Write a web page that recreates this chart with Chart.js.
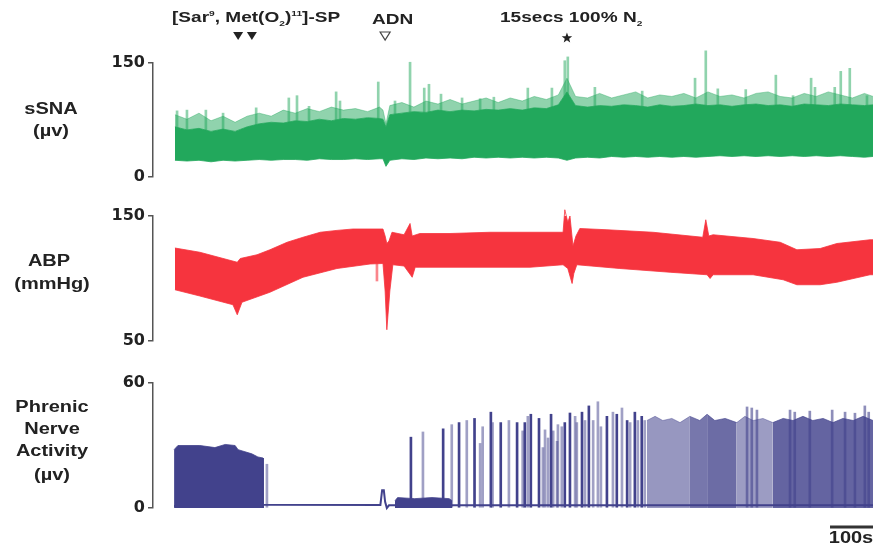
<!DOCTYPE html>
<html>
<head>
<meta charset="utf-8">
<script src="https://cdn.jsdelivr.net/npm/chart.js@4"></script>
<style>
  body { margin: 0; background: #fff; }
  #wrap { position: relative; width: 874px; height: 553px; overflow: hidden;
          font-family: "Liberation Sans", Arial, sans-serif; font-weight: bold; color: #222; }
  canvas { position: absolute; left: 0; }
  .lbl { position: absolute; font-size: 16px; line-height: 1; white-space: nowrap;
         transform: translate(-50%, -50%) scaleX(1.25); }
  .note { position: absolute; font-size: 15px; line-height: 1; white-space: nowrap;
          transform-origin: left center; transform: translateY(-50%) scaleX(1.27); }
  .note sup, .note sub { font-size: 8px; }
</style>
</head>
<body>
<div id="wrap">
  <canvas id="c1" width="874" height="190" style="top:0"></canvas>
  <canvas id="c2" width="874" height="160" style="top:195px"></canvas>
  <canvas id="c3" width="874" height="188" style="top:365px"></canvas>

  <div class="note" style="left:172px; top:18px">[Sar<sup>9</sup>, Met(O<sub>2</sub>)<sup>11</sup>]-SP</div>
  <div class="note" style="left:372px; top:18px">ADN</div>
  <div class="note" style="left:500px; top:18px">15secs 100% N<sub>2</sub></div>

  <div class="lbl" style="left:51px; top:109px">sSNA</div>
  <div class="lbl" style="left:51px; top:131px">(µv)</div>
  <div class="lbl" style="left:49px; top:261px">ABP</div>
  <div class="lbl" style="left:52px; top:284px">(mmHg)</div>
  <div class="lbl" style="left:52px; top:407px">Phrenic</div>
  <div class="lbl" style="left:52px; top:429px">Nerve</div>
  <div class="lbl" style="left:52px; top:451px">Activity</div>
  <div class="lbl" style="left:52px; top:475px">(µv)</div>
  <div class="lbl" style="left:851px; top:538px">100s</div>
</div>

<script>
// time axis in seconds (scale bar = 100 s)
const tStart = -49, tEnd = 1626;

// event markers above the traces
const eventTimes = [149, 181, 491, 914];
const eventKinds = ['filled', 'filled', 'open', 'star'];

// sSNA envelope (µV)
const sTime  = [2, 30, 58, 86, 114, 142, 170, 198, 226, 254, 282, 310, 338, 366, 394, 422, 450, 478, 486, 493, 502, 530, 558, 586, 614, 642, 670, 698, 726, 754, 782, 810, 838, 866, 894, 914, 934, 962, 990, 1018, 1046, 1074, 1102, 1130, 1158, 1186, 1214, 1242, 1270, 1298, 1326, 1354, 1382, 1410, 1438, 1466, 1494, 1522, 1550, 1578, 1606, 1626];
const sTip   = [82, 76, 84, 74, 80, 72, 80, 84, 80, 88, 84, 90, 86, 92, 88, 90, 86, 92, 88, 70, 94, 98, 92, 100, 96, 102, 96, 100, 104, 98, 104, 100, 106, 102, 108, 130, 106, 104, 110, 104, 108, 112, 104, 108, 106, 110, 104, 112, 106, 108, 104, 110, 112, 106, 104, 110, 106, 112, 108, 104, 110, 106];
const sUpper = [66, 62, 64, 60, 63, 60, 66, 70, 72, 71, 74, 73, 76, 74, 77, 76, 78, 77, 76, 66, 82, 84, 86, 85, 88, 86, 88, 87, 89, 88, 90, 88, 91, 90, 95, 112, 94, 92, 94, 93, 95, 94, 92, 95, 93, 94, 96, 94, 95, 93, 95, 96, 94, 95, 93, 96, 95, 94, 96, 95, 94, 95];
const sLower = [22, 21, 22, 20, 22, 21, 22, 23, 22, 23, 23, 22, 24, 23, 23, 24, 23, 24, 24, 14, 22, 24, 23, 25, 24, 25, 24, 26, 25, 26, 25, 26, 25, 26, 25, 22, 25, 26, 25, 27, 26, 27, 26, 27, 26, 27, 26, 27, 28, 27, 28, 27, 28, 27, 28, 27, 28, 27, 28, 27, 26, 27];
const sSpikeTime = [7, 30, 74, 114, 191, 267, 286, 314, 377, 386, 475, 514, 549, 582, 593, 621, 670, 712, 744, 823, 879, 909, 916, 979, 1089, 1212, 1237, 1265, 1330, 1400, 1440, 1482, 1491, 1537, 1551, 1572, 1612];
const sSpikeHigh = [87, 88, 88, 84, 91, 104, 107, 93, 112, 100, 125, 100, 151, 117, 122, 109, 104, 103, 105, 117, 117, 153, 158, 118, 113, 130, 166, 116, 115, 134, 107, 130, 118, 118, 139, 143, 107];

// ABP envelope (mmHg)
const aUpTime  = [2, 60, 147, 154, 193, 223, 263, 300, 340, 379, 416, 486, 491, 495, 500, 507, 535, 549, 554, 572, 642, 735, 828, 905, 909, 916, 921, 928, 935, 944, 1007, 1114, 1230, 1237, 1244, 1254, 1347, 1410, 1449, 1503, 1542, 1619, 1626];
const aUpper   = [124.4, 121, 113, 116, 119, 123, 129, 133, 137, 138.5, 139.6, 139.6, 134, 128, 130, 137, 135, 144, 134, 136, 136, 137, 137, 137, 155, 145, 150, 126, 134, 140, 139, 137, 133, 147, 134, 135, 132, 129, 123, 124, 128, 131, 131];
const aLowTime = [2, 60, 137, 147, 158, 223, 300, 379, 456, 486, 491, 495, 502, 509, 535, 554, 561, 572, 828, 905, 916, 926, 930, 937, 1037, 1154, 1240, 1247, 1254, 1347, 1417, 1449, 1503, 1542, 1619, 1626];
const aLower   = [91, 86, 79, 71, 81, 89, 101, 108, 111.6, 112, 90, 59, 90, 111, 110, 101, 109, 109, 109, 111, 108, 96, 104, 111, 108, 105, 103, 100, 103, 103, 99, 95, 95, 97, 103, 103];
const aStepTime = [472];
const aStepLow  = [98];
const aStepHigh = [112];

// Phrenic nerve activity (µV)
const pEarlyTime = [0, 9, 60, 95, 119, 142, 149, 165, 181, 195, 207, 208];
const pEarly     = [28, 30, 30, 29, 30.5, 30, 28, 27, 26, 24.5, 24, 0];
const pBaseTime  = [0, 208, 480, 484, 488, 491, 495, 500, 1626];
const pBase      = [1, 1.5, 1.5, 8.5, 8.5, 3, 0, 1.3, 1.3];
const pAdnTime   = [514, 520, 560, 600, 640, 647];
const pAdn       = [3.5, 5, 4.5, 5, 4.5, 3.5];
const pDarkTime  = [551, 626, 663, 699, 737, 760, 798, 816, 830, 849, 877, 909, 921, 949, 965, 1007, 1030, 1054, 1072, 1088];
const pDarkHigh  = [34, 38, 41, 43, 46, 41, 41, 41, 45, 43, 45, 41, 45.6, 46, 49, 44, 45, 42, 46, 44];
const pLightTime = [216, 579, 646, 681, 712, 718, 741, 779, 811, 823, 858, 863, 870, 882, 891, 893, 902, 933, 937, 956, 975, 986, 993, 1021, 1042, 1061, 1079, 1095];
const pLightHigh = [21, 36.5, 40, 42, 31, 39, 41, 42, 37, 44, 29, 37.5, 33.6, 37, 32, 40, 39, 44, 41, 42, 42, 51, 39, 46, 48, 41, 42, 42];
const pLateTime  = [1100, 1119, 1137, 1158, 1177, 1200, 1223, 1240, 1258, 1282, 1309, 1328, 1347, 1370, 1393, 1417, 1440, 1463, 1486, 1510, 1533, 1556, 1580, 1603, 1626];
const pLate      = [42, 44, 42, 43, 41, 44, 42, 45, 42, 43, 41, 44, 42, 43, 41, 43, 42, 44, 42, 43, 41, 43, 42, 44, 42];
// shade sections of the late dense burst band
const pLateSections = [[1100, 1200], [1200, 1240], [1240, 1309], [1309, 1393], [1393, 1626]];
const pLateTopTime = [1333, 1344, 1356, 1433, 1444, 1479, 1531, 1561, 1584, 1607, 1616];
const pLateTopHigh = [48.5, 48, 47, 47, 46, 46.5, 47, 46, 45.5, 49, 46];

const GREEN = 'rgb(34,168,92)', RED = 'rgb(246,52,62)', NAVY = 'rgb(66,66,140)';
const AXIS = '#555';

function pts(xs, ys) { return xs.map((x, i) => ({ x: x, y: ys[i] })); }
function bars(xs, lo, hi) { return xs.map((x, i) => ({ x: x, y: [Array.isArray(lo) ? lo[i] : lo, hi[i]] })); }

function yAxis(min, max) {
  return {
    min: min, max: max,
    afterBuildTicks: s => { s.ticks = [{ value: min }, { value: max }]; },
    afterFit: s => { s.width = 153; },
    border: { display: true, color: AXIS, width: 1.5 },
    grid: { drawOnChartArea: false, drawTicks: true, tickLength: 5, color: AXIS, lineWidth: 1.5 },
    ticks: { color: '#222', padding: 3, font: { family: 'DejaVu Sans', weight: 'bold', size: 16 } }
  };
}
const xAxis = { type: 'linear', min: tStart, max: tEnd, display: false, offset: false };

function baseOptions(min, max, pad) {
  return {
    responsive: false, animation: false,
    layout: { padding: pad },
    plugins: { legend: { display: false }, tooltip: { enabled: false } },
    scales: { x: xAxis, y: yAxis(min, max) }
  };
}
function area(data, color, fill) {
  return { type: 'line', data: data, fill: fill, backgroundColor: color, borderColor: color,
           borderWidth: 0.8, pointRadius: 0, tension: 0, clip: false };
}
function spikes(data, color, w) {
  return { type: 'bar', data: data, backgroundColor: color, barThickness: w || 2,
           grouped: false, clip: false };
}

// markers for drug / ADN / hypoxia events
const markerPlugin = {
  id: 'markers',
  afterDraw(chart) {
    const ctx = chart.ctx, xs = chart.scales.x;
    eventTimes.forEach((t, i) => {
      const px = xs.getPixelForValue(t);
      ctx.save();
      if (eventKinds[i] === 'star') {
        ctx.fillStyle = '#222';
        ctx.beginPath();
        for (let k = 0; k < 10; k++) {
          const r = k % 2 ? 2.3 : 5.5, a = -Math.PI / 2 + k * Math.PI / 5;
          ctx.lineTo(px + r * Math.cos(a), 38 + r * Math.sin(a));
        }
        ctx.closePath(); ctx.fill();
      } else {
        ctx.beginPath();
        ctx.moveTo(px - 5, 32); ctx.lineTo(px + 5, 32); ctx.lineTo(px, 40); ctx.closePath();
        if (eventKinds[i] === 'filled') { ctx.fillStyle = '#222'; ctx.fill(); }
        else { ctx.strokeStyle = '#444'; ctx.lineWidth = 1.2; ctx.stroke(); }
      }
      ctx.restore();
    });
  }
};

// 100 s scale bar under the last trace
const scaleBarPlugin = {
  id: 'scalebar',
  afterDraw(chart) {
    const ctx = chart.ctx, xs = chart.scales.x;
    ctx.save();
    ctx.strokeStyle = '#333'; ctx.lineWidth = 3;
    ctx.beginPath();
    ctx.moveTo(xs.getPixelForValue(tEnd - 100), 162);
    ctx.lineTo(xs.getPixelForValue(tEnd), 162);
    ctx.stroke();
    ctx.restore();
  }
};

new Chart(document.getElementById('c1'), {
  type: 'line',
  data: { datasets: [
    area(pts(sTime, sTip), 'rgba(34,168,92,0.5)', 1),
    area(pts(sTime, sUpper), GREEN, 2),
    area(pts(sTime, sLower), GREEN, false),
    spikes(bars(sSpikeTime, 50, sSpikeHigh), 'rgba(34,168,92,0.5)')
  ] },
  options: baseOptions(0, 150, { top: 63, bottom: 13, left: 0, right: 1 }),
  plugins: [markerPlugin]
});

new Chart(document.getElementById('c2'), {
  type: 'line',
  data: { datasets: [
    area(pts(aUpTime, aUpper), RED, 1),
    area(pts(aLowTime, aLower), RED, false),
    spikes(bars(aStepTime, aStepLow, aStepHigh), 'rgba(246,52,62,0.6)')
  ] },
  options: baseOptions(50, 150, { top: 21, bottom: 14, left: 0, right: 1 })
});

const lateShades = ['rgba(66,66,140,0.55)', 'rgba(66,66,140,0.72)', 'rgba(66,66,140,0.78)', 'rgba(66,66,140,0.52)', 'rgba(66,66,140,0.82)'];
const lateSets = pLateSections.map((sec, k) => {
  const idx = pLateTime.map((t, i) => i).filter(i => pLateTime[i] >= sec[0] && pLateTime[i] <= sec[1]);
  return area(idx.map(i => ({ x: pLateTime[i], y: pLate[i] })), lateShades[k], 'origin');
});

new Chart(document.getElementById('c3'), {
  type: 'line',
  data: { datasets: [
    area(pts(pEarlyTime, pEarly), NAVY, 'origin'),
    area(pts(pAdnTime, pAdn), NAVY, 'origin'),
    { type: 'line', data: pts(pBaseTime, pBase), borderColor: NAVY, borderWidth: 2, pointRadius: 0, fill: false, clip: false },
    spikes(bars(pDarkTime, 0, pDarkHigh), NAVY),
    spikes(bars(pLightTime, 0, pLightHigh), 'rgba(66,66,140,0.5)'),
    spikes(bars(pLateTopTime, 0, pLateTopHigh), 'rgba(66,66,140,0.6)'),
    ...lateSets
  ] },
  options: baseOptions(0, 60, { top: 18, bottom: 45, left: 0, right: 1 }),
  plugins: [scaleBarPlugin]
});
</script>
</body>
</html>
